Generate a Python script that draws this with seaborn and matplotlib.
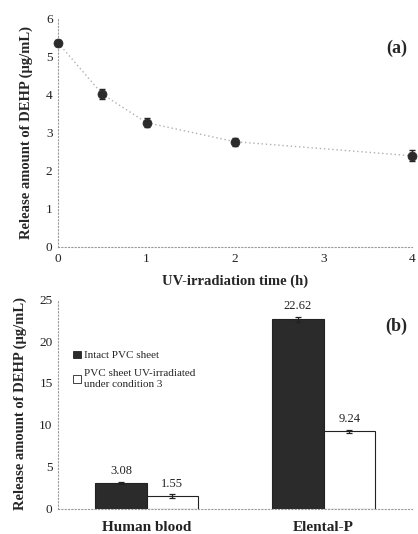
import numpy as np
import pandas as pd
import matplotlib
matplotlib.use("Agg")
import matplotlib.pyplot as plt
import seaborn as sns
from matplotlib.patches import Patch

sns.set_theme(style="white")
plt.rcParams["font.family"] = ["Liberation Serif", "DejaVu Serif"]
plt.rcParams["mathtext.fontset"] = "stix"

# Panel (a): DEHP release vs UV-irradiation time
uv_time = [0, 0.5, 1, 2, 4]
uv_release = [5.37, 4.02, 3.27, 2.77, 2.40]
uv_err = [0.08, 0.13, 0.12, 0.11, 0.14]

# Panel (b): release into human blood and Elental-P
media = ["Human blood", "Elental-P"]
sheets = ["Intact PVC sheet", "PVC sheet UV-irradiated\nunder condition 3"]
intact = [3.08, 22.62]
irradiated = [1.55, 9.24]
intact_err = [0.15, 0.30]
irradiated_err = [0.20, 0.20]

dark = "#2b2b2b"
ylabel = "Release amount of DEHP (\u03bcg/mL)"

fig = plt.figure(figsize=(4.18, 5.34), dpi=100)
ax1 = fig.add_axes([0.139, 0.5375, 0.847, 0.427])
ax2 = fig.add_axes([0.139, 0.047, 0.847, 0.393])

def style_axes(ax):
    for side in ("top", "right"):
        ax.spines[side].set_visible(False)
    for side in ("left", "bottom"):
        ax.spines[side].set_linestyle((0, (1, 2)))
        ax.spines[side].set_color("#9a9a9a")
        ax.spines[side].set_linewidth(0.8)
    ax.tick_params(axis="both", length=0, labelsize=9.5, colors="#222222", pad=4)

# ---- (a) ----
df_a = pd.DataFrame({"time": uv_time, "release": uv_release})
sns.lineplot(data=df_a, x="time", y="release", ax=ax1, color="#b0b0b0",
             linestyle=(0, (1, 2)), linewidth=1.0)
ax1.errorbar(uv_time, uv_release, yerr=uv_err, fmt="none", ecolor="#222222",
             elinewidth=1.0, capsize=2, capthick=1.0, zorder=3, clip_on=False)
sns.scatterplot(data=df_a, x="time", y="release", ax=ax1, color=dark,
                s=42, edgecolor=dark, zorder=4, clip_on=False)
ax1.set_xlim(0, 4)
ax1.set_ylim(0, 6)
ax1.set_xticks([0, 1, 2, 3, 4])
ax1.set_yticks([0, 1, 2, 3, 4, 5, 6])
ax1.set_xlabel("UV-irradiation time (h)", fontsize=10.5, fontweight="bold", labelpad=7)
ax1.set_ylabel(ylabel, fontsize=10.5, fontweight="bold", labelpad=9)
ax1.text(0.985, 0.87, "(a)", transform=ax1.transAxes, ha="right", va="center",
         fontsize=13, fontweight="bold")
style_axes(ax1)

# ---- (b) ----
df_b = pd.DataFrame({
    "medium": media * 2,
    "sheet": [sheets[0]] * 2 + [sheets[1]] * 2,
    "release": intact + irradiated,
})
sns.barplot(data=df_b, x="medium", y="release", hue="sheet", order=media,
            hue_order=sheets, palette=[dark, "white"], edgecolor="#222222",
            linewidth=0.8, width=0.58, errorbar=None, ax=ax2, legend=False)

errs = intact_err + irradiated_err
vals = intact + irradiated
for patch, val, err in zip(ax2.patches, vals, errs):
    cx = patch.get_x() + patch.get_width() / 2
    ax2.errorbar(cx, val, yerr=err, fmt="none", ecolor="#222222",
                 elinewidth=0.9, capsize=2, capthick=0.9, zorder=3)
    ax2.text(cx, val + err + 0.55, f"{val:.2f}", ha="center", va="bottom",
             fontsize=9, color="#222222")

ax2.set_xlim(-0.5, 1.5)
ax2.set_ylim(0, 25)
ax2.set_yticks([0, 5, 10, 15, 20, 25])
ax2.set_xlabel("")
ax2.set_ylabel(ylabel, fontsize=10.5, fontweight="bold", labelpad=9)
ax2.text(0.985, 0.87, "(b)", transform=ax2.transAxes, ha="right", va="center",
         fontsize=13, fontweight="bold")
style_axes(ax2)
ax2.tick_params(axis="x", pad=9)
for lab in ax2.get_xticklabels():
    lab.set_fontsize(11)
    lab.set_fontweight("bold")

handles = [Patch(facecolor=dark, edgecolor="#222222", linewidth=0.6),
           Patch(facecolor="white", edgecolor="#222222", linewidth=0.6)]
leg = ax2.legend(handles, sheets, loc="upper left", bbox_to_anchor=(0.03, 0.775),
                 frameon=False, fontsize=8, handlelength=0.7, handleheight=0.7,
                 handletextpad=0.3, labelspacing=0.75, borderaxespad=0)
for t in leg.get_texts():
    t.set_linespacing(1.35)

fig.savefig("out.png", dpi=100)
